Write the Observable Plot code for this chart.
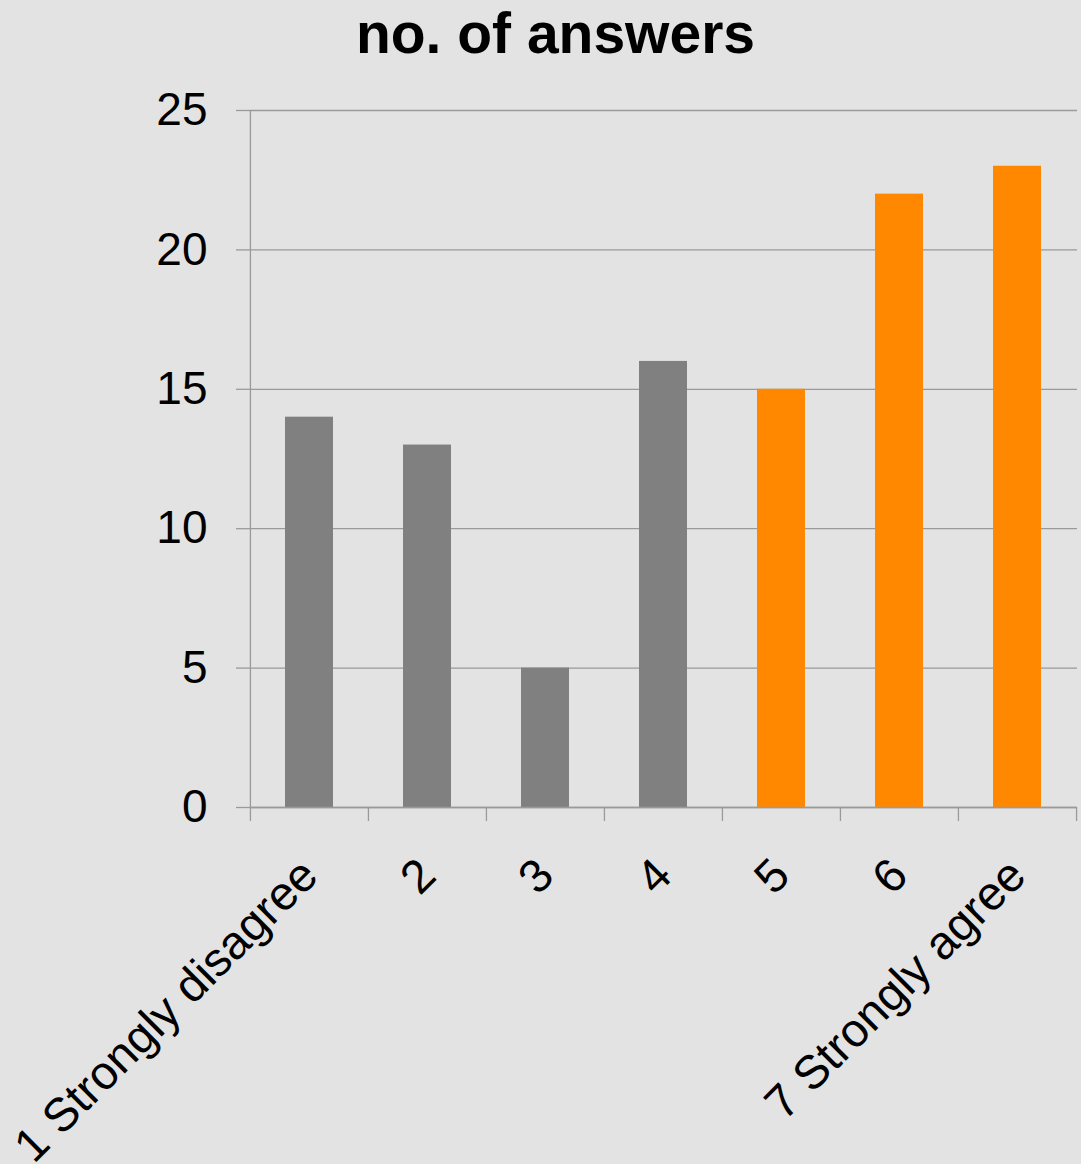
<!DOCTYPE html>
<html>
<head>
<meta charset="utf-8">
<script src="https://cdn.jsdelivr.net/npm/d3@7"></script>
<script src="https://cdn.jsdelivr.net/npm/@observablehq/plot@0.6"></script>
<style>
  html, body { margin: 0; padding: 0; background: #e3e3e3; overflow: hidden; }
  #title { height: 62px; line-height: 62px; font: bold 57px "Liberation Sans", Arial, sans-serif; color: #000; text-align: center; padding-left: 30px; white-space: nowrap; }
  #chart svg { display: block; overflow: visible; }
</style>
</head>
<body>
<div id="title">no. of answers</div>
<div id="chart"></div>
<script>
const categories = ["1 Strongly disagree", "2", "3", "4", "5", "6", "7 Strongly agree"];
const answers = [14, 13, 5, 16, 15, 22, 23];
const barColors = ["#808080", "#808080", "#808080", "#808080", "#ff8800", "#ff8800", "#ff8800"];
const yTicks = [0, 5, 10, 15, 20, 25];

const data = categories.map((c, i) => ({category: c, value: answers[i], color: barColors[i]}));

const W = 1081, H = 1102;
const mLeft = 250, mRight = 4, mTop = 48, mBottom = 357;
const step = (W - mLeft - mRight) / categories.length;
const gridColor = "#9a9a9a";

const chart = Plot.plot({
  width: W,
  height: H,
  marginLeft: mLeft,
  marginRight: mRight,
  marginTop: mTop,
  marginBottom: mBottom,
  style: {background: "transparent", fontFamily: "'Liberation Sans', Arial, sans-serif", color: "#000"},
  x: {domain: categories, paddingInner: 0.59, paddingOuter: 0.295, axis: null, label: null},
  y: {domain: [0, 25], axis: null, label: null},
  marks: [
    Plot.ruleY(yTicks, {stroke: gridColor, strokeWidth: 1.3}),
    Plot.axisY(yTicks, {label: null, tickSize: 14, tickPadding: 29, fontSize: 46, stroke: gridColor, strokeWidth: 1.3, color: "#000"}),
    Plot.barY(data, {x: "category", y: "value", fill: "color"}),
    Plot.ruleY([0], {stroke: gridColor, strokeWidth: 1.3}),
    Plot.axisX(categories, {label: null, tickSize: 14, tickFormat: () => "", dx: -step / 2, stroke: gridColor, strokeWidth: 1.3}),
    Plot.axisX(categories.slice(-1), {label: null, tickSize: 14, tickFormat: () => "", dx: step / 2, stroke: gridColor, strokeWidth: 1.3}),
    Plot.ruleX(categories.slice(0, 1), {y1: 0, y2: 25, dx: -step / 2, stroke: gridColor, strokeWidth: 1.3}),
    Plot.text(data, {x: "category", frameAnchor: "bottom", dy: 60, rotate: -45, textAnchor: "end", lineAnchor: "middle", text: "category", fontSize: 47, fill: "#000"})
  ]
});
document.getElementById("chart").appendChild(chart);
</script>
</body>
</html>
